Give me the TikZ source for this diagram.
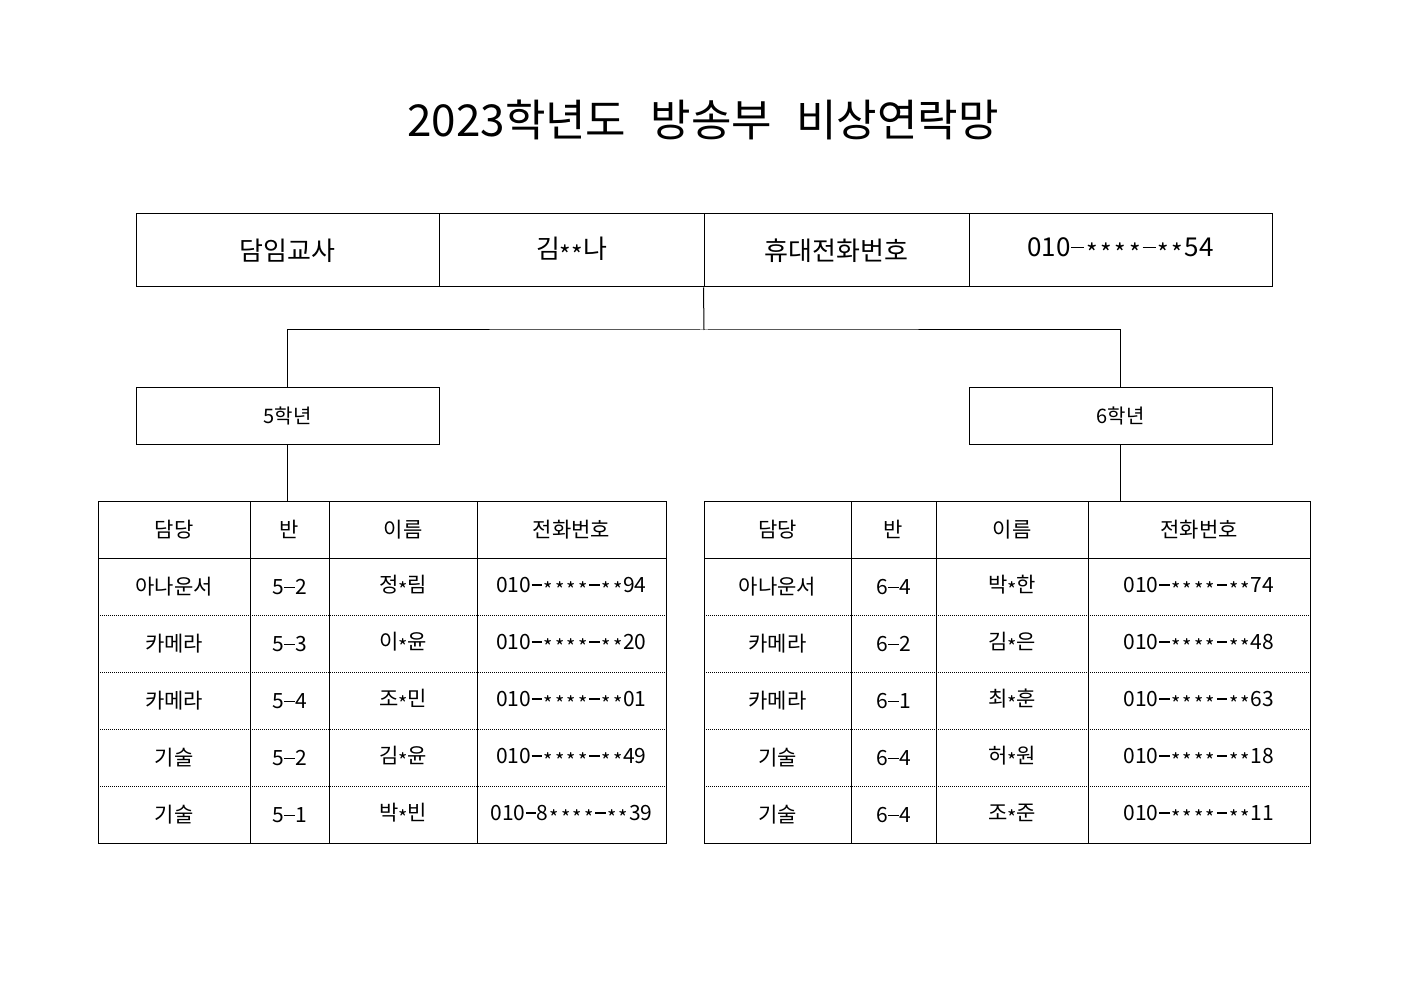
\documentclass[tikz,border=0pt]{standalone}
\usepackage{fontspec}
\usepackage{graphicx}
\setmainfont{Noto Sans CJK KR}
\newcommand\stsym{\raisebox{-0.42ex}{\scalebox{0.95}{*}}}
\newcommand\dashsym{\rule[0.34em]{0.5em}{0.055em}}
\def\pnchar#1{\if*#1\stsym\else\if-#1\dashsym\else#1\fi\fi}
\def\pnloop#1{\ifx#1\relax\else\makebox[0.55em]{\pnchar{#1}}\expandafter\pnloop\fi}
\newcommand\pn[1]{\pnloop#1\relax}
\begin{document}
\begin{tikzpicture}[x=1pt,y=-1pt,
  line width=1pt,
  topcell/.style={draw,minimum height=73pt,inner sep=0pt,font=\fontsize{26}{30}\selectfont},
  grpbox/.style={draw,minimum width=303pt,minimum height=57pt,inner sep=0pt,font=\fontsize{20}{24}\selectfont},
  tabframe/.style={draw,minimum height=342pt,inner sep=0pt},
  celltxt/.style={inner sep=0pt,font=\fontsize{21}{25}\selectfont},
  rowsep/.style={line width=0.8pt,dash pattern=on 0.8pt off 1.2pt},
  tree/.style={line width=1pt}]
\useasboundingbox (0,0) rectangle (1403,992);
\fill[white] (0,0) rectangle (1403,992);
% title
\node[font=\fontsize{44}{50}\selectfont,inner sep=0pt] (title) at (703,120) {2023학년도\hspace{0.55em}방송부\hspace{0.55em}비상연락망};
% top row
\node[topcell,minimum width=303pt] (t1) at (287.5,250.5) {담임교사};
\node[topcell,minimum width=265pt] (t2) at (571.5,250.5) {김\stsym\stsym 나};
\node[topcell,minimum width=265pt] (t3) at (836.5,250.5) {휴대전화번호};
\node[topcell,minimum width=303pt] (t4) at (1120.5,250.5) {\raisebox{-1.5pt}{\pn{010-****-**54}}};
% groups
\node[grpbox] (g5) at (287.5,415.5) {5학년};
\node[grpbox] (g6) at (1120.5,415.5) {6학년};
\coordinate (mid) at (704,330);
\draw[tree] (t3.south west) -- (mid);
\draw[tree] (g5.north) |- (mid) -| (g6.north);
% tables
\node[tabframe,minimum width=568pt] (L) at (382,672) {};
\node[tabframe,minimum width=606pt] (R) at (1007,672) {};
\draw[tree] (g5.south) -- (g5.south |- L.north);
\draw[tree] (g6.south) -- (g6.south |- R.north);
% left table grid
\foreach \x in {250,329,477} \draw (\x,501) -- (\x,843);
\draw (98,558) -- (666,558);
\foreach \y in {615,672,729,786} \draw[rowsep] (98,\y) -- (666,\y);
% right table grid
\foreach \x in {851,936,1088} \draw (\x,501) -- (\x,843);
\draw (704,558) -- (1310,558);
\foreach \y in {615,672,729,786} \draw[rowsep] (704,\y) -- (1310,\y);
% headers
\node[celltxt] (lh1) at (174,529.5) {담당};
\node[celltxt] (lh2) at (289.5,529.5) {반};
\node[celltxt] (lh3) at (403,529.5) {이름};
\node[celltxt] (lh4) at (571.5,529.5) {전화번호};
\node[celltxt] (rh1) at (777.5,529.5) {담당};
\node[celltxt] (rh2) at (893.5,529.5) {반};
\node[celltxt] (rh3) at (1012,529.5) {이름};
\node[celltxt] (rh4) at (1199,529.5) {전화번호};
% left table text
\foreach \a/\b/\c/\e/\d [count=\i from 1] in {아나운서/5-2/정/림/010-****-**94,카메라/5-3/이/윤/010-****-**20,카메라/5-4/조/민/010-****-**01,기술/5-2/김/윤/010-****-**49,기술/5-1/박/빈/010-8****-**39}{
  \node[celltxt] (la\i) at (174,529.5+57*\i) {\a};
  \node[celltxt] (lb\i) at (289.5,530.5+57*\i) {\expandafter\pn\expandafter{\b}};
  \node[celltxt] (lc\i) at (403,529.5+57*\i) {\c\stsym\e};
  \node[celltxt] (ld\i) at (571.5,530.5+57*\i) {\expandafter\pn\expandafter{\d}};
}
% right table text
\foreach \a/\b/\c/\e/\d [count=\i from 1] in {아나운서/6-4/박/한/010-****-**74,카메라/6-2/김/은/010-****-**48,카메라/6-1/최/훈/010-****-**63,기술/6-4/허/원/010-****-**18,기술/6-4/조/준/010-****-**11}{
  \node[celltxt] (ra\i) at (777.5,529.5+57*\i) {\a};
  \node[celltxt] (rb\i) at (893.5,530.5+57*\i) {\expandafter\pn\expandafter{\b}};
  \node[celltxt] (rc\i) at (1012,529.5+57*\i) {\c\stsym\e};
  \node[celltxt] (rd\i) at (1199,530.5+57*\i) {\expandafter\pn\expandafter{\d}};
}
\end{tikzpicture}
\end{document}
